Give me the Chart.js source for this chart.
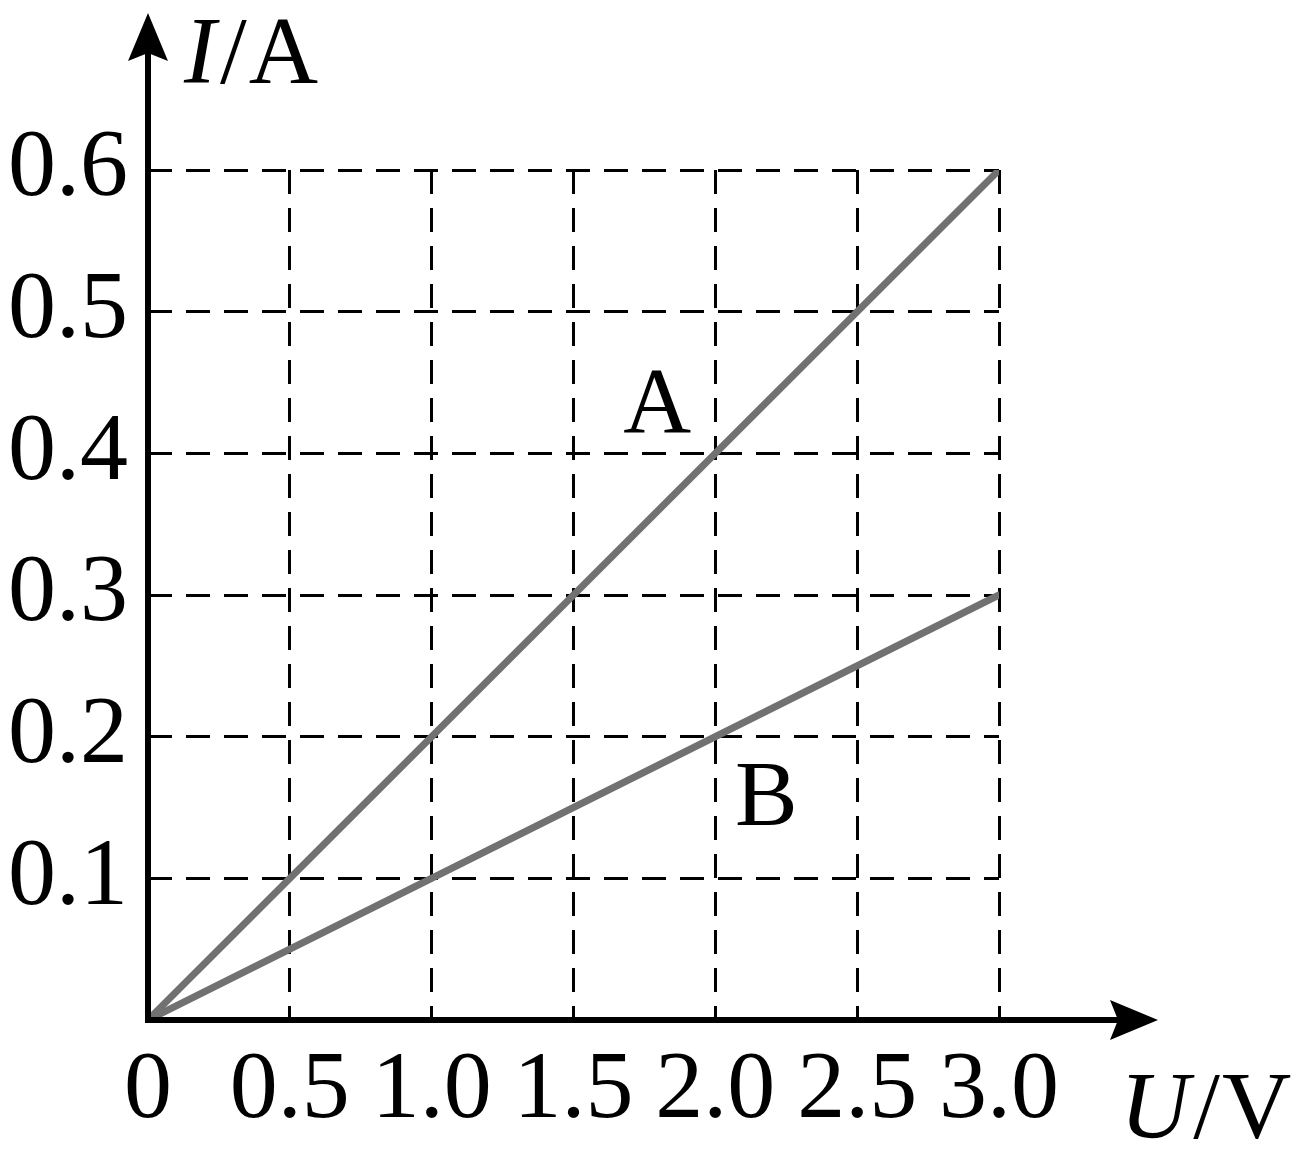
<!DOCTYPE html>
<html>
<head>
<meta charset="utf-8">
<script src="https://cdn.jsdelivr.net/npm/chart.js@4/dist/chart.umd.min.js"></script>
<style>
  html, body { margin: 0; padding: 0; background: #fff; }
  #chart { display: block; }
</style>
</head>
<body>
<canvas id="chart" width="1300" height="1149"></canvas>
<script>
  // I-U graph for two resistors A and B
  const voltages = [0, 3.0];
  const currentA = [0, 0.6];
  const currentB = [0, 0.3];
  const lineNames = ['A', 'B'];
  const xTicks = [0, 0.5, 1.0, 1.5, 2.0, 2.5, 3.0];
  const yTicks = [0.1, 0.2, 0.3, 0.4, 0.5, 0.6];

  const FONT = '"Liberation Serif", "Times New Roman", serif';
  const LINE_COLOR = '#717171';

  const toPoints = (xs, ys) => xs.map((x, i) => ({ x, y: ys[i] }));

  // axes with arrows, axis titles and line names
  const decorPlugin = {
    id: 'decor',
    afterDraw(chart) {
      const ctx = chart.ctx;
      const xs = chart.scales.x, ys = chart.scales.y;
      const ox = xs.getPixelForValue(0), oy = ys.getPixelForValue(0);
      ctx.save();
      ctx.fillStyle = '#000';
      ctx.strokeStyle = '#000';
      ctx.lineWidth = 6;
      ctx.lineCap = 'butt';

      // y axis
      const yTip = chart.chartArea.top - 157;
      ctx.beginPath();
      ctx.moveTo(ox, oy + 3);
      ctx.lineTo(ox, yTip + 30);
      ctx.stroke();
      ctx.beginPath();
      ctx.moveTo(ox, yTip);
      ctx.lineTo(ox + 20, yTip + 48);
      ctx.lineTo(ox, yTip + 40);
      ctx.lineTo(ox - 20, yTip + 48);
      ctx.closePath();
      ctx.fill();

      // x axis
      const xTip = chart.chartArea.right + 159;
      ctx.beginPath();
      ctx.moveTo(ox - 3, oy);
      ctx.lineTo(xTip - 30, oy);
      ctx.stroke();
      ctx.beginPath();
      ctx.moveTo(xTip, oy);
      ctx.lineTo(xTip - 48, oy - 20);
      ctx.lineTo(xTip - 40, oy);
      ctx.lineTo(xTip - 48, oy + 20);
      ctx.closePath();
      ctx.fill();

      // axis titles: italic quantity / upright unit
      const drawTitle = (q, unit, x, y) => {
        ctx.textAlign = 'left';
        ctx.textBaseline = 'alphabetic';
        ctx.font = 'italic 96px ' + FONT;
        ctx.fillText(q, x, y);
        let cx = x + ctx.measureText(q).width + 4;
        ctx.font = '96px ' + FONT;
        ctx.fillText('/', cx, y);
        cx += ctx.measureText('/').width + 2;
        ctx.fillText(unit, cx, y);
      };
      drawTitle('I', 'A', ox + 36, 83);
      drawTitle('U', 'V', chart.chartArea.right + 121, 1138);

      // line names
      ctx.font = '94px ' + FONT;
      ctx.textAlign = 'center';
      ctx.textBaseline = 'alphabetic';
      ctx.fillText(lineNames[0], xs.getPixelForValue(1.795), ys.getPixelForValue(0.415));
      ctx.fillText(lineNames[1], xs.getPixelForValue(2.18), ys.getPixelForValue(0.1376));
      ctx.restore();
    }
  };

  const gridColor = (c) => (c.tick && c.tick.value === 0) ? 'rgba(0,0,0,0)' : '#000';

  new Chart(document.getElementById('chart'), {
    type: 'scatter',
    data: {
      datasets: [
        { label: lineNames[0], data: toPoints(voltages, currentA), showLine: true },
        { label: lineNames[1], data: toPoints(voltages, currentB), showLine: true }
      ].map(d => Object.assign(d, {
        borderColor: LINE_COLOR, backgroundColor: LINE_COLOR,
        borderWidth: 7, borderCapStyle: 'round', pointRadius: 0, pointHoverRadius: 0
      }))
    },
    options: {
      responsive: false,
      animation: false,
      layout: { padding: { top: 170, right: 301, left: 0, bottom: 0 } },
      plugins: { legend: { display: false }, tooltip: { enabled: false } },
      scales: {
        x: {
          type: 'linear', min: 0, max: 3,
          afterFit(s) { s.height = 129; },
          afterBuildTicks(s) { s.ticks = xTicks.map(v => ({ value: v })); },
          grid: { color: gridColor, lineWidth: 3, drawTicks: false },
          border: { display: false, dash: [24, 14] },
          ticks: {
            color: '#000', padding: 14,
            font: { family: FONT, size: 96 },
            callback: v => v === 0 ? '0' : v.toFixed(1)
          }
        },
        y: {
          type: 'linear', min: 0, max: 0.6,
          afterFit(s) { s.width = 148; },
          afterBuildTicks(s) { s.ticks = [0].concat(yTicks).map(v => ({ value: v })); },
          grid: { color: gridColor, lineWidth: 3, drawTicks: false },
          border: { display: false, dash: [24, 14] },
          ticks: {
            color: '#000', padding: 20,
            font: { family: FONT, size: 96 },
            callback: v => v === 0 ? '' : v.toFixed(1)
          }
        }
      }
    },
    plugins: [decorPlugin]
  });
</script>
</body>
</html>
